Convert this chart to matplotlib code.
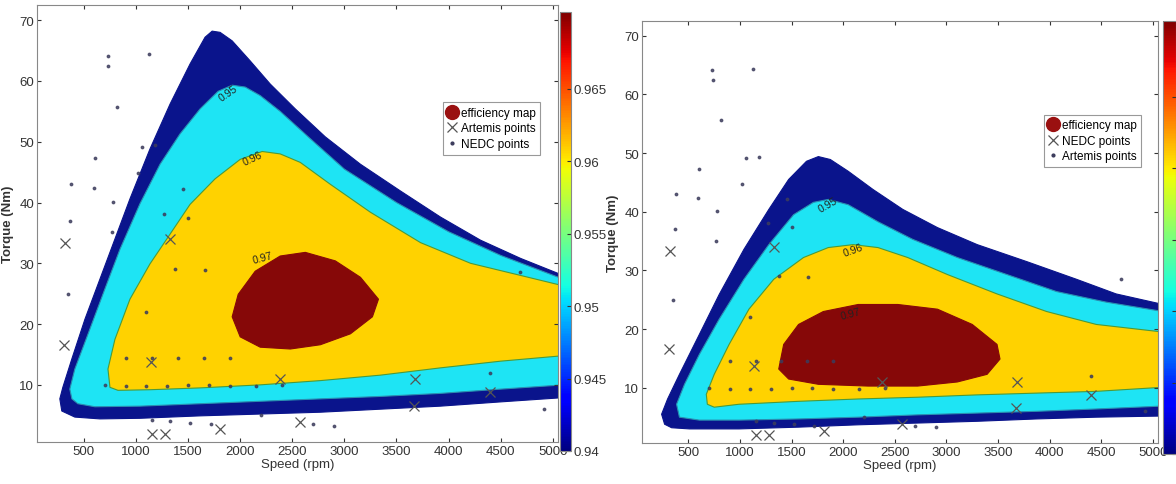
import matplotlib.pyplot as plt
from matplotlib.cm import ScalarMappable
from matplotlib.colors import Normalize
from matplotlib.lines import Line2D

plt.rcParams['font.family'] = ['Liberation Sans', 'DejaVu Sans']

# efficiency regions, left map (speed rpm, torque Nm outlines)
left_blue_speed = [288, 269, 298, 385, 510, 654, 798, 942, 1134, 1327, 1519, 1663, 1731, 1807, 1923, 2096, 2288, 2529,
                   2817, 3154, 3538, 3923, 4307, 4692, 5100, 5100, 4500, 3923, 3346, 2769, 2192, 1615, 1038, 654, 413]
left_blue_torque = [5.7, 7.7, 9.6, 14.3, 20.8, 27.4, 34.0, 40.6, 48.8, 56.2, 62.8, 67.2, 68.2, 68.0, 66.6, 63.3, 59.5, 55.4,
                    50.8, 46.3, 41.9, 37.6, 33.8, 30.8, 28.0, 7.9, 7.2, 6.5, 6.0, 5.5, 5.2, 4.9, 4.5, 4.4, 4.7]
left_cyan_speed = [385, 365, 413, 558, 702, 846, 1038, 1231, 1423, 1615, 1788, 1923, 2048, 2192, 2384, 2673, 3000, 3500,
                   4000, 4500, 5100, 5100, 4500, 3923, 3346, 2769, 2192, 1615, 1038, 606, 442]
left_cyan_torque = [7.7, 9.3, 12.6, 19.2, 25.8, 32.3, 39.8, 46.3, 51.3, 55.4, 58.3, 59.3, 59.0, 57.6, 55.0, 50.5, 45.5, 40.0,
                    35.2, 31.3, 27.4, 10.0, 9.3, 8.6, 8.1, 7.7, 7.3, 6.9, 6.5, 6.4, 6.9]
left_yellow_speed = [750, 731, 798, 942, 1134, 1327, 1519, 1759, 2000, 2211, 2384, 2577, 2865, 3250, 3731, 4211, 4692,
                     5100, 5100, 4500, 3923, 3346, 2769, 2192, 1615, 1134, 827]
left_yellow_torque = [9.6, 12.6, 17.5, 24.1, 29.9, 34.8, 39.7, 43.9, 47.1, 48.4, 48.0, 46.6, 43.0, 38.4, 33.4, 30.0, 28.0,
                      26.3, 14.8, 13.9, 12.8, 11.6, 10.7, 10.0, 9.5, 9.2, 9.1]
left_red_speed = [1923, 1981, 2144, 2384, 2625, 2913, 3154, 3327, 3269, 3058, 2769, 2481, 2192, 2000]
left_red_torque = [21.2, 24.9, 28.7, 31.2, 31.8, 30.4, 27.7, 24.1, 21.2, 18.4, 16.6, 15.9, 16.2, 17.9]

# efficiency regions, right map
right_blue_speed = [269, 240, 298, 413, 606, 798, 1038, 1279, 1471, 1644, 1759, 1875, 2048, 2288, 2577, 2913, 3298, 3779,
                    4259, 4644, 5100, 5100, 4452, 3875, 3298, 2721, 2144, 1567, 990, 510, 337]
right_blue_torque = [3.8, 5.5, 8.1, 12.3, 19.1, 25.9, 33.6, 40.4, 45.5, 48.6, 49.4, 48.9, 46.9, 43.8, 40.4, 37.3, 34.4, 31.5,
                     28.5, 26.0, 24.2, 5.2, 5.0, 4.7, 4.3, 4.0, 3.7, 3.3, 3.0, 3.0, 3.2]
right_cyan_speed = [413, 385, 462, 606, 798, 1038, 1279, 1519, 1711, 1855, 2048, 2336, 2673, 3106, 3586, 4067, 4548, 5100,
                    5100, 4452, 3875, 3298, 2721, 2144, 1567, 990, 606]
right_cyan_torque = [5.0, 7.2, 10.6, 15.7, 21.7, 28.5, 34.4, 39.5, 41.6, 42.1, 41.2, 38.3, 35.3, 32.2, 29.3, 26.4, 24.6, 23.0,
                     6.9, 6.4, 6.0, 5.7, 5.4, 5.0, 4.7, 4.5, 4.5]
right_yellow_speed = [683, 673, 750, 894, 1086, 1327, 1615, 1855, 2096, 2336, 2625, 3010, 3490, 3971, 4452, 5100,
                      5100, 4452, 3875, 3298, 2721, 2144, 1567, 990, 750]
right_yellow_torque = [7.2, 8.9, 12.3, 17.4, 23.4, 28.5, 32.2, 33.9, 34.4, 33.9, 32.2, 29.3, 26.0, 23.0, 20.8, 19.5,
                       10.1, 9.4, 9.1, 8.8, 8.4, 8.1, 7.7, 7.2, 6.7]
right_red_speed = [1375, 1423, 1567, 1807, 2144, 2529, 2913, 3250, 3490, 3519, 3394, 3106, 2721, 2240, 1759, 1471]
right_red_torque = [13.2, 17.4, 20.8, 23.0, 24.2, 24.2, 23.4, 20.8, 17.4, 14.9, 12.3, 11.0, 10.3, 10.3, 10.6, 11.5]

# contour labels (text, speed, torque, angle)
left_labels = [('0.95', 1884, 58.0, 35), ('0.96', 2115, 47.3, 25), ('0.97', 2211, 31.0, 15)]
right_labels = [('0.95', 1855, 41.2, 30), ('0.96', 2096, 33.6, 20), ('0.97', 2067, 22.6, 15)]

# operating points
cross_speed = [320, 310, 1140, 1330, 1150, 1280, 1810, 2380, 2570, 3680, 3670, 4400]
cross_torque = [33.3, 16.6, 13.7, 34.0, 1.9, 1.9, 2.7, 11.0, 3.9, 11.0, 6.6, 8.8]
dot_speed = [731, 735, 1125, 817, 606, 1058, 1183, 1019, 375, 596, 779, 365, 769, 1452, 1269, 1500, 346, 1375, 1663,
             1100, 900, 1150, 1400, 1650, 1900, 700, 900, 1100, 1300, 1500, 1700, 1900, 2150, 2400, 1150, 1330, 1520,
             1720, 2200, 4690, 4920, 2700, 2900, 4400]
dot_torque = [64.1, 62.5, 64.4, 55.7, 47.3, 49.1, 49.4, 44.8, 43.0, 42.4, 40.1, 37.0, 35.1, 42.2, 38.1, 37.4, 25.0, 29.0, 28.9,
              22.0, 14.5, 14.5, 14.5, 14.5, 14.5, 10.0, 9.8, 9.8, 9.8, 10.0, 10.0, 9.8, 9.8, 9.9, 4.3, 4.0, 3.8,
              3.5, 5.0, 28.5, 6.0, 3.5, 3.3, 12.0]

cbar_ticks = [0.94, 0.945, 0.95, 0.955, 0.96, 0.965]

c_blue, c_cyan, c_yellow, c_red = '#0a148c', '#1ee4f4', '#ffd200', '#860808'

W, H = 1176, 485
fig = plt.figure(figsize=(W / 100, H / 100), dpi=100)
ax1 = fig.add_axes([37 / W, 42 / H, 521 / W, 437 / H])
ax2 = fig.add_axes([642 / W, 41 / H, 516 / W, 422 / H])
cax1 = fig.add_axes([560 / W, 33 / H, 11 / W, 439 / H])
cax2 = fig.add_axes([1163 / W, 30 / H, 13 / W, 433 / H])


def draw_map(ax, regions, labels, names):
    for (sp, tq), col, ec in zip(regions, [c_blue, c_cyan, c_yellow, c_red],
                                 ['#0a148c', '#2a8fb0', '#4c9a3a', '#860808']):
        ax.fill(sp, tq, color=col, ec=ec, lw=0.8, zorder=1)
    for txt, s, t, a in labels:
        ax.text(s, t, txt, rotation=a, fontsize=7.5, ha='center', va='center', color='#222222', zorder=3)
    ax.plot(dot_speed, dot_torque, '.', color='#3c3c5c', ms=3.5, alpha=0.8, zorder=4)
    ax.plot(cross_speed, cross_torque, 'x', color='#555555', ms=7, mew=0.9, zorder=4)
    ax.set_xlim(50, 5050)
    ax.set_ylim(0.6, 72.5)
    ax.set_xticks(range(500, 5001, 500))
    ax.set_yticks(range(10, 71, 10))
    ax.tick_params(direction='in', top=True, right=True, length=3, labelsize=9.5, colors='#333333', pad=2)
    for sp in ax.spines.values():
        sp.set_color('#888888')
        sp.set_linewidth(0.8)
    ax.set_xlabel('Speed (rpm)', fontsize=9.5, labelpad=1, color='#333333')
    ax.set_ylabel('Torque (Nm)', fontsize=9.5, fontweight='bold', labelpad=4, color='#333333')
    handles = [Line2D([], [], marker='o', color='#9a1010', ms=10, ls='none'),
               Line2D([], [], marker='x', color='#555555', ms=7, mew=0.9, ls='none'),
               Line2D([], [], marker='.', color='#3c3c5c', ms=4, ls='none')]
    leg = ax.legend(handles, names, loc='upper left', bbox_to_anchor=(0.779, 0.778), fontsize=8.5,
                    fancybox=False, handlelength=0.8, handletextpad=0.3, borderpad=0.4, labelspacing=0.3,
                    framealpha=1, edgecolor='#999999', borderaxespad=0)
    leg.get_frame().set_linewidth(0.8)


draw_map(ax1, [(left_blue_speed, left_blue_torque), (left_cyan_speed, left_cyan_torque),
               (left_yellow_speed, left_yellow_torque), (left_red_speed, left_red_torque)],
         left_labels, ['efficiency map', 'Artemis points', 'NEDC points'])
draw_map(ax2, [(right_blue_speed, right_blue_torque), (right_cyan_speed, right_cyan_torque),
               (right_yellow_speed, right_yellow_torque), (right_red_speed, right_red_torque)],
         right_labels, ['efficiency map', 'NEDC points', 'Artemis points'])

sm = ScalarMappable(norm=Normalize(0.94, 0.9703), cmap='jet')
cb1 = fig.colorbar(sm, cax=cax1, ticks=cbar_ticks)
cb1.ax.set_yticklabels([f'{v:g}' for v in cbar_ticks])
cb1.ax.tick_params(direction='in', length=3, labelsize=9.5, colors='#333333', pad=2)
cb1.outline.set_edgecolor('#888888')

# the right colour bar is cut by the image edge, so only its tick marks show
cb2 = fig.colorbar(sm, cax=cax2, ticks=cbar_ticks)
cb2.ax.tick_params(direction='in', length=3, labelright=False, colors='#333333')
cb2.outline.set_edgecolor('#888888')

fig.savefig('out.png', dpi=100)
